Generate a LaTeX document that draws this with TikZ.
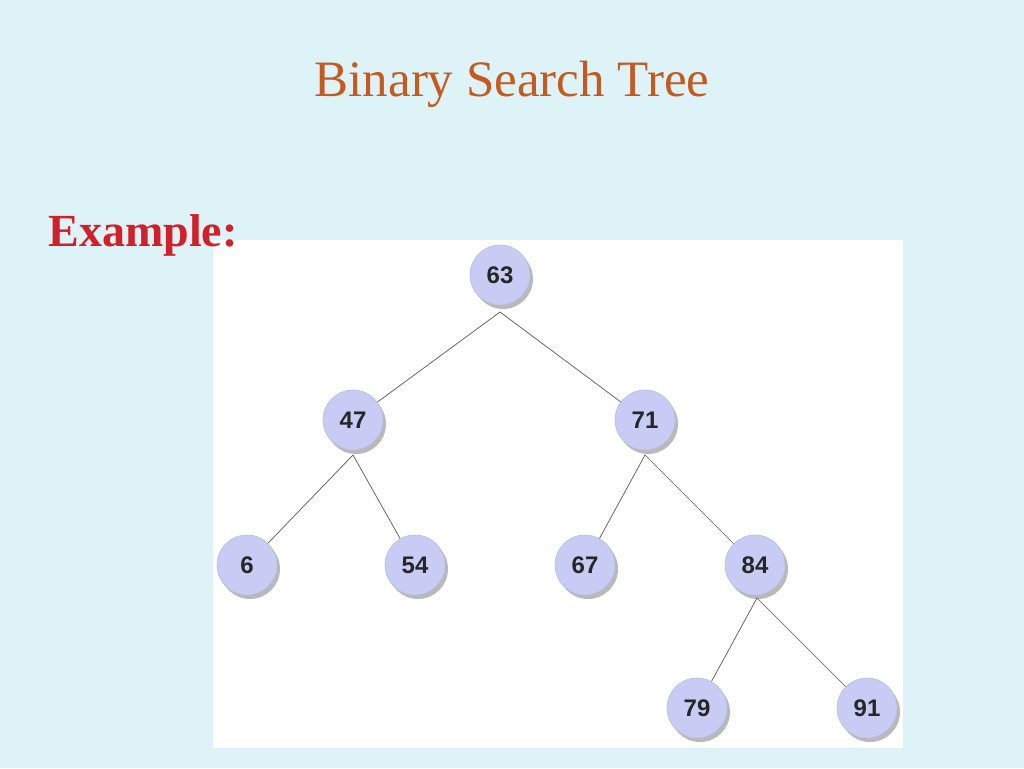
\documentclass[tikz,border=0pt]{standalone}
\usepackage{fontspec}
\setmainfont{Liberation Serif}
\setsansfont{Liberation Sans}
\begin{document}
\begin{tikzpicture}[x=1pt,y=-1pt,
  bnode/.style={circle,minimum size=60pt,inner sep=0pt,fill=nodefill,draw=nodefill!80!gray,line width=0.6pt,
     font=\sffamily\bfseries\fontsize{24}{24}\selectfont,text=black!85},
  shadowc/.style={circle,minimum size=60pt,inner sep=0pt,fill=gray!55},
  edge/.style={draw=gray!70!black,line width=0.7pt}]
\definecolor{bg}{HTML}{DDF3F8}
\definecolor{nodefill}{HTML}{C8CCF5}
\definecolor{titlec}{HTML}{C55A20}
\definecolor{exc}{HTML}{D0202A}
\useasboundingbox (0,0) rectangle (1024,768);
\fill[bg] (0,0) rectangle (1024,768);
\fill[white] (213,240) rectangle (903,748);
\node[font=\fontsize{51}{51}\selectfont,text=titlec] (title) at (512,84) {Binary Search Tree};
\node[font=\bfseries\fontsize{46}{46}\selectfont,text=exc,anchor=west] (ex) at (45,235) {Example:};
\foreach \n/\x/\y in {63/500/275,47/353/420,71/645/420,6/247/565,54/415/565,67/585/565,84/755/565,79/697/708,91/867/708}{
  \node[shadowc] at (\x+3,\y+4) {};
}
\coordinate (p63) at (500,312);
\coordinate (p47) at (353,455);
\coordinate (p71) at (645,455);
\coordinate (p84) at (757,598);
\node[bnode] (n63) at (500,275) {63};
\node[bnode] (n47) at (353,420) {47};
\node[bnode] (n71) at (645,420) {71};
\node[bnode] (n6) at (247,565) {6};
\node[bnode] (n54) at (415,565) {54};
\node[bnode] (n67) at (585,565) {67};
\node[bnode] (n84) at (755,565) {84};
\node[bnode] (n79) at (697,708) {79};
\node[bnode] (n91) at (867,708) {91};
\draw[edge] (p63) -- (n47);
\draw[edge] (p63) -- (n71);
\draw[edge] (p47) -- (n6);
\draw[edge] (p47) -- (n54);
\draw[edge] (p71) -- (n67);
\draw[edge] (p71) -- (n84);
\draw[edge] (p84) -- (n79);
\draw[edge] (p84) -- (n91);
\end{tikzpicture}
\end{document}
